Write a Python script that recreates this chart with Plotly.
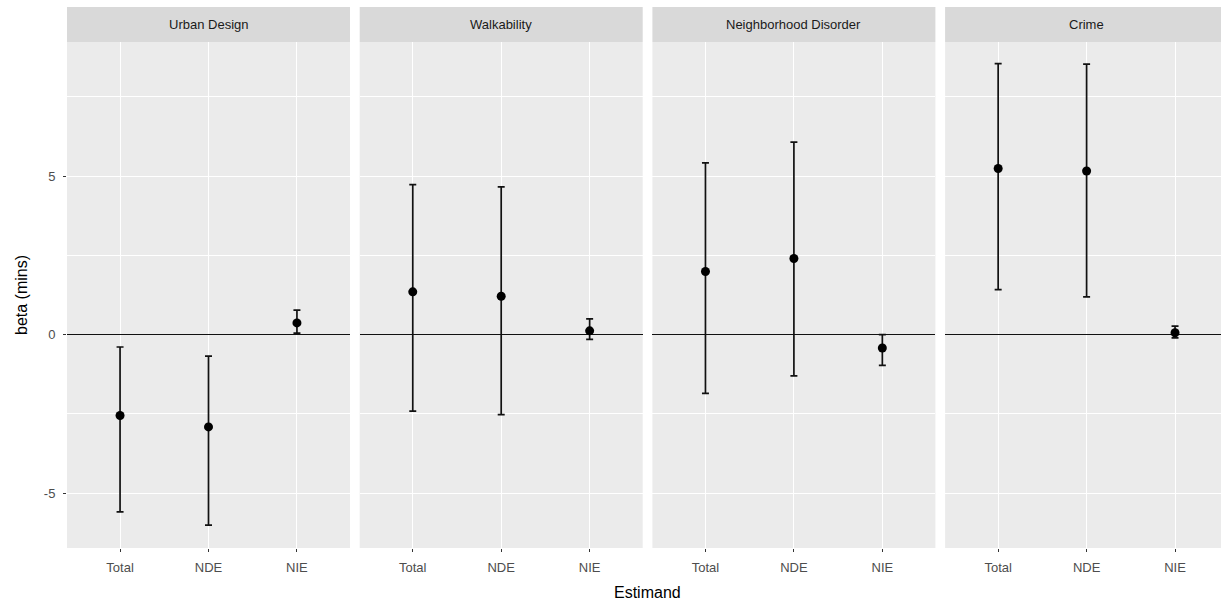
import plotly.graph_objects as go
from plotly.subplots import make_subplots

panels = ["Urban Design", "Walkability", "Neighborhood Disorder", "Crime"]
estimands = ["Total", "NDE", "NIE"]

beta = {
    "Urban Design": [-2.55, -2.91, 0.37],
    "Walkability": [1.35, 1.21, 0.12],
    "Neighborhood Disorder": [1.99, 2.40, -0.42],
    "Crime": [5.24, 5.16, 0.06],
}
upper = {
    "Urban Design": [-0.39, -0.68, 0.77],
    "Walkability": [4.73, 4.66, 0.50],
    "Neighborhood Disorder": [5.42, 6.07, 0.00],
    "Crime": [8.55, 8.53, 0.27],
}
lower = {
    "Urban Design": [-5.59, -6.01, 0.05],
    "Walkability": [-2.41, -2.52, -0.15],
    "Neighborhood Disorder": [-1.85, -1.30, -0.97],
    "Crime": [1.42, 1.19, -0.10],
}

W, H = 1221, 604
ml, mr, mt, mb = 67, 0, 7, 56
strip_h = 35
plot_w = W - ml - mr
panel_w = 283.0
step = 292.7
unit = panel_w / 3.2

fig = make_subplots(rows=1, cols=4, shared_yaxes=True, horizontal_spacing=0)

font_family = "Liberation Sans, Arial, sans-serif"
ymin, ymax = -6.73, 9.23
plot_h = H - mt - mb
panel_top_frac = 1 - strip_h / plot_h

for i, p in enumerate(panels):
    col = i + 1
    b = beta[p]
    up = [u - v for u, v in zip(upper[p], b)]
    lo = [v - l for v, l in zip(b, lower[p])]
    fig.add_trace(
        go.Scatter(
            x=estimands, y=b, mode="markers",
            marker=dict(color="black", size=9),
            error_y=dict(type="data", array=up, arrayminus=lo, symmetric=False,
                         color="#111111", thickness=1.7, width=3.5),
            showlegend=False,
        ),
        row=1, col=col,
    )
    px0 = i * step
    px1 = min(px0 + panel_w, plot_w)
    x0 = px0 / plot_w
    x1 = px1 / plot_w
    xr = [-0.6, -0.6 + (px1 - px0) / unit]
    xa = "xaxis" if i == 0 else f"xaxis{col}"
    fig.layout[xa].update(
        domain=[x0, x1], type="category", categoryorder="array", categoryarray=estimands,
        range=xr, showgrid=True, gridcolor="white", gridwidth=1.1,
        ticks="outside", ticklen=3, tickcolor="#333333", tickwidth=1,
        ticklabelstandoff=4,
        tickfont=dict(size=13, color="#4D4D4D", family=font_family),
        showline=False, zeroline=False, fixedrange=True,
    )
    ya = "yaxis" if i == 0 else f"yaxis{col}"
    fig.layout[ya].update(
        domain=[0, panel_top_frac], range=[ymin, ymax],
        tickvals=[-5, 0, 5], ticktext=["-5", "0", "5"],
        showgrid=True, gridcolor="white", gridwidth=1.1,
        minor=dict(tickvals=[-7.5, -2.5, 2.5, 7.5], showgrid=True, gridcolor="white", gridwidth=0.5, ticks=""),
        zeroline=True, zerolinecolor="#111111", zerolinewidth=1.4,
        showline=False, fixedrange=True,
        ticks="outside" if i == 0 else "", ticklen=3, tickcolor="#333333",
        ticklabelstandoff=5,
        showticklabels=(i == 0),
        tickfont=dict(size=13, color="#4D4D4D", family=font_family),
    )
    # strip
    fig.add_shape(type="rect", xref="paper", yref="paper",
                  x0=x0, x1=x1, y0=panel_top_frac, y1=1,
                  fillcolor="#D9D9D9", line=dict(width=0), layer="below")
    # panel background
    fig.add_shape(type="rect", xref="paper", yref="paper",
                  x0=x0, x1=x1, y0=0, y1=panel_top_frac,
                  fillcolor="#EBEBEB", line=dict(width=0), layer="below")
    fig.add_annotation(text=p, xref="paper", yref="paper",
                       x=(px0 + panel_w / 2) / plot_w, y=(panel_top_frac + 1) / 2,
                       showarrow=False, xanchor="center", yanchor="middle",
                       font=dict(size=13, color="#1A1A1A", family=font_family))

fig.add_annotation(text="Estimand", xref="paper", yref="paper",
                   x=(3 * step + panel_w) / 2 / plot_w, y=-(592 - (H - mb)) / plot_h, showarrow=False,
                   xanchor="center", yanchor="middle",
                   font=dict(size=16, color="black", family=font_family))
fig.add_annotation(text="beta (mins)", xref="paper", yref="paper",
                   x=-(ml - 21) / plot_w, y=panel_top_frac / 2,
                   textangle=-90, showarrow=False, xanchor="center", yanchor="middle",
                   font=dict(size=16, color="black", family=font_family))

fig.update_layout(
    width=W, height=H,
    margin=dict(l=ml, r=mr, t=mt, b=mb),
    paper_bgcolor="white", plot_bgcolor="rgba(0,0,0,0)",
    font=dict(family=font_family),
)

fig.write_html("out.html", config={"displayModeBar": False},
               post_script="document.body.style.margin='0';document.body.style.padding='0';")
